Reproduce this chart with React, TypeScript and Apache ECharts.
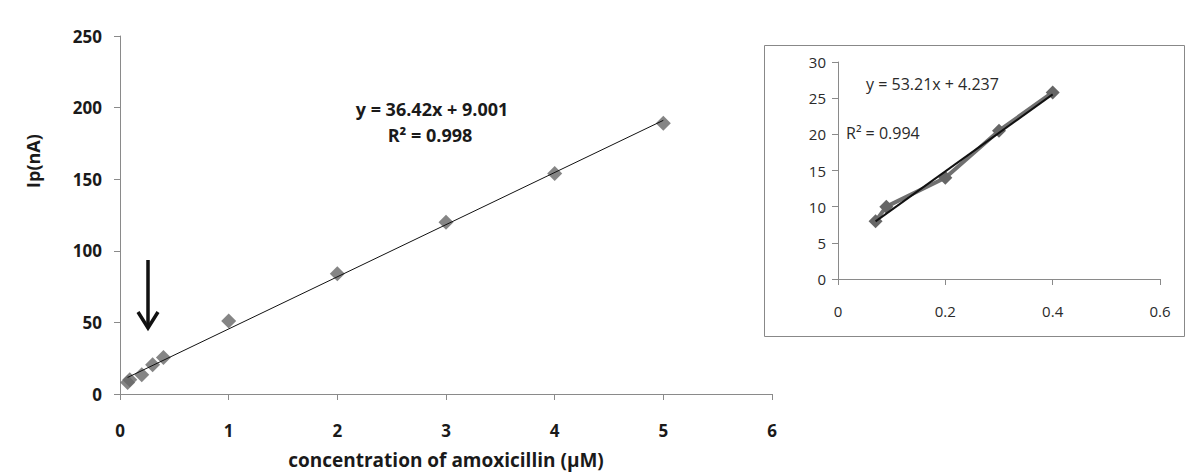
import React, { useEffect, useRef } from "react";
import * as echarts from "echarts";

const concX = [0.07, 0.09, 0.2, 0.3, 0.4, 1, 2, 3, 4, 5];
const currentY = [8, 10, 13.5, 20.5, 25.5, 51, 84, 120, 154, 189];
const mainFit = { slope: 36.42, intercept: 9.001, from: 0.07, to: 5 };
const insetX = [0.07, 0.09, 0.2, 0.3, 0.4];
const insetY = [8, 10, 14, 20.5, 25.8];
const insetFit = { slope: 53.21, intercept: 4.237, from: 0.07, to: 0.4 };
const mainEq = "y = 36.42x + 9.001";
const mainR2 = "R² = 0.998";
const insetEq = "y = 53.21x + 4.237";
const insetR2 = "R² = 0.994";

const FONT = "Open Sans";

export default function App() {
  const ref = useRef<HTMLDivElement>(null);
  useEffect(() => {
    if (!ref.current) return;
    const chart = echarts.init(ref.current, undefined, { renderer: "svg" });
    const axisLine = { show: true, lineStyle: { color: "#8a8a8a", width: 1 } };
    const axisTick = { show: true, inside: false, length: 6, lineStyle: { color: "#8a8a8a" } };
    const markerColor = "#666666";
    chart.setOption({
      animation: false,
      backgroundColor: "#ffffff",
      grid: [
        { left: 120, top: 36, width: 652, height: 358, outerBoundsMode: "none", containLabel: false },
        { left: 838, top: 62, width: 322, height: 217, outerBoundsMode: "none", containLabel: false },
      ],
      xAxis: [
        {
          gridIndex: 0, type: "value", min: 0, max: 6, interval: 1,
          axisLine, axisTick, splitLine: { show: false },
          axisLabel: { margin: 28, fontFamily: FONT, fontWeight: "bold", fontSize: 17, color: "#1a1a1a" },
          name: "concentration of amoxicillin (μM)", nameLocation: "middle", nameGap: 56,
          nameTextStyle: { fontFamily: FONT, fontWeight: "bold", fontSize: 19, color: "#1a1a1a", letterSpacing: -0.4 },
        },
        {
          gridIndex: 1, type: "value", min: 0, max: 0.6, interval: 0.2,
          axisLine, axisTick, splitLine: { show: false },
          axisLabel: { margin: 24, fontFamily: FONT, fontSize: 15, color: "#2a2a2a" },
        },
      ],
      yAxis: [
        {
          gridIndex: 0, type: "value", min: 0, max: 250, interval: 50,
          axisLine, axisTick, splitLine: { show: false },
          axisLabel: { margin: 18, fontFamily: FONT, fontWeight: "bold", fontSize: 17, color: "#1a1a1a" },
        },
        {
          gridIndex: 1, type: "value", min: 0, max: 30, interval: 5,
          axisLine, axisTick, splitLine: { show: false },
          axisLabel: { margin: 12, fontFamily: FONT, fontSize: 15, color: "#2a2a2a" },
        },
      ],
      series: [
        {
          type: "line", xAxisIndex: 0, yAxisIndex: 0, symbol: "none",
          lineStyle: { color: "#111", width: 1 },
          data: [
            [mainFit.from, mainFit.slope * mainFit.from + mainFit.intercept],
            [mainFit.to, mainFit.slope * mainFit.to + mainFit.intercept],
          ],
          z: 3,
        },
        {
          type: "scatter", xAxisIndex: 0, yAxisIndex: 0, symbol: "diamond", symbolSize: 15,
          itemStyle: { color: markerColor },
          data: concX.map((x, i) => [x, currentY[i]]),
          z: 2,
        },
        {
          type: "line", xAxisIndex: 1, yAxisIndex: 1, symbol: "diamond", symbolSize: 14,
          showSymbol: true,
          lineStyle: { color: "#707070", width: 4 },
          itemStyle: { color: markerColor },
          data: insetX.map((x, i) => [x, insetY[i]]),
          z: 2,
        },
        {
          type: "line", xAxisIndex: 1, yAxisIndex: 1, symbol: "none",
          lineStyle: { color: "#111", width: 2 },
          data: [
            [insetFit.from, insetFit.slope * insetFit.from + insetFit.intercept],
            [insetFit.to, insetFit.slope * insetFit.to + insetFit.intercept],
          ],
          z: 3,
        },
      ],
      graphic: [
        {
          type: "rect", shape: { x: 764.5, y: 45.5, width: 420, height: 291 },
          style: { fill: "none", stroke: "#888", lineWidth: 1 }, z: 0,
        },
        {
          type: "text", x: 33, y: 161, rotation: Math.PI / 2,
          style: { text: "Ip(nA)", fontFamily: FONT, fontWeight: "bold", fontSize: 18, fill: "#1a1a1a", align: "center", verticalAlign: "middle" },
        },
        {
          type: "text", x: 432, y: 109,
          style: { text: mainEq, fontFamily: FONT, fontWeight: "bold", fontSize: 18, fill: "#1a1a1a", align: "center", verticalAlign: "middle", letterSpacing: -0.3 },
        },
        {
          type: "text", x: 430, y: 135,
          style: { text: mainR2, fontFamily: FONT, fontWeight: "bold", fontSize: 18, fill: "#1a1a1a", align: "center", verticalAlign: "middle", letterSpacing: -0.3 },
        },
        {
          type: "text", x: 866, y: 84,
          style: { text: insetEq, fontFamily: FONT, fontSize: 16, fill: "#2a2a2a", align: "left", verticalAlign: "middle" },
        },
        {
          type: "text", x: 846, y: 133,
          style: { text: insetR2, fontFamily: FONT, fontSize: 16, fill: "#2a2a2a", align: "left", verticalAlign: "middle" },
        },
        {
          type: "line", shape: { x1: 148, y1: 260, x2: 148, y2: 327 },
          style: { stroke: "#111", lineWidth: 3.5 },
        },
        {
          type: "polyline", shape: { points: [[138, 312], [148, 328], [158, 312]] },
          style: { stroke: "#111", lineWidth: 3.5, fill: "none" },
        },
      ],
    });
    return () => chart.dispose();
  }, []);
  return (
    <div
      ref={ref}
      style={{ position: "absolute", left: 0, top: 0, width: 1198, height: 474, background: "#fff" }}
    />
  );
}
